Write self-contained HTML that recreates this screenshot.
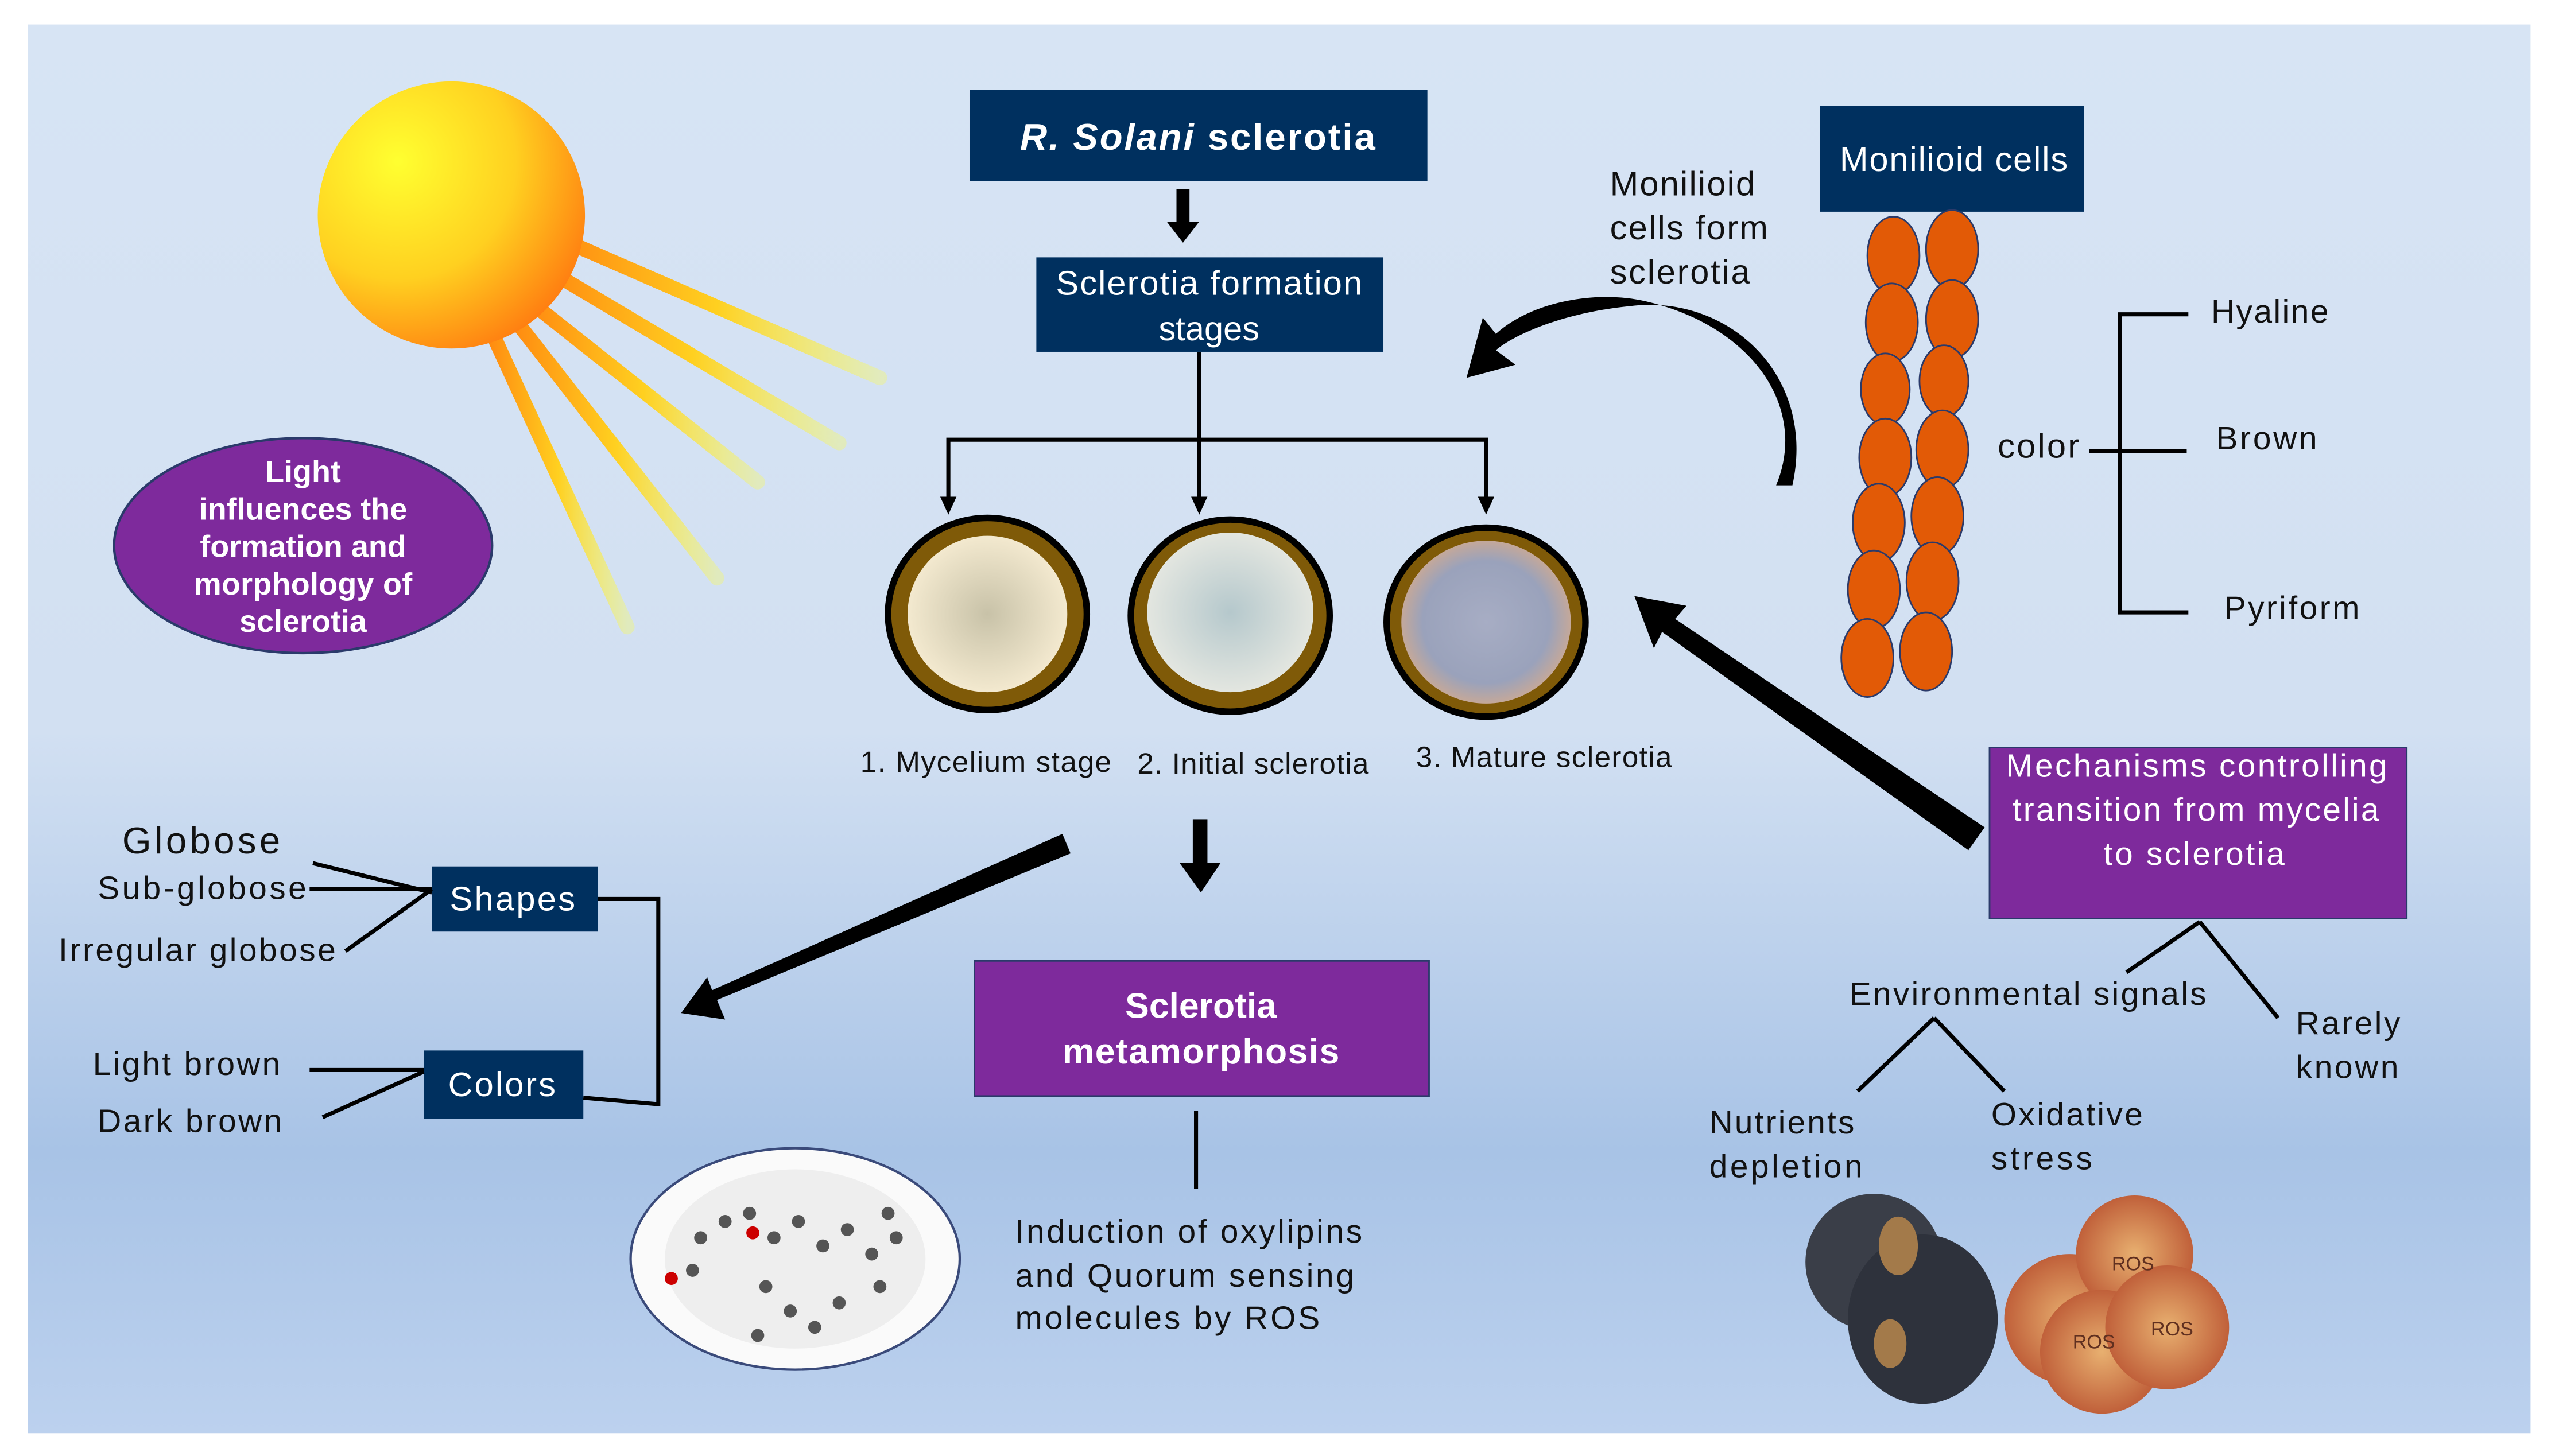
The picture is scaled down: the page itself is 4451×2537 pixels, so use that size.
<!DOCTYPE html>
<html><head><meta charset="utf-8">
<style>
html,body{margin:0;padding:0;background:#fff;}
svg{display:block;}
text{font-family:"Liberation Sans",Arial,sans-serif;}
</style></head>
<body>
<svg width="4451" height="2537" viewBox="0 0 1568 894" preserveAspectRatio="none" xmlns="http://www.w3.org/2000/svg">
<defs>
<linearGradient id="bg" x1="0" y1="0" x2="0" y2="1">
<stop offset="0" stop-color="#d7e4f4"/>
<stop offset="0.5" stop-color="#d2e0f2"/>
<stop offset="0.8" stop-color="#a8c3e6"/>
<stop offset="1" stop-color="#bcd1ee"/>
</linearGradient>
<radialGradient id="sun" cx="0.3" cy="0.3" r="0.8">
<stop offset="0" stop-color="#ffff30"/>
<stop offset="0.55" stop-color="#ffd020"/>
<stop offset="1" stop-color="#ff7a10"/>
</radialGradient>
<linearGradient id="ray" x1="0" y1="0" x2="1" y2="0">
<stop offset="0" stop-color="#ff8a10"/>
<stop offset="0.5" stop-color="#ffd020"/>
<stop offset="1" stop-color="#ffff40" stop-opacity="0.3"/>
</linearGradient>
<radialGradient id="p1"><stop offset="0" stop-color="#c8c2a8"/><stop offset="1" stop-color="#f3e9cf"/></radialGradient>
<radialGradient id="p2"><stop offset="0" stop-color="#b5c8cc"/><stop offset="1" stop-color="#e3e6e0"/></radialGradient>
<radialGradient id="p3"><stop offset="0" stop-color="#a7adc4"/><stop offset="0.75" stop-color="#9aa2bb"/><stop offset="1" stop-color="#c4a89a"/></radialGradient>
<radialGradient id="ros"><stop offset="0" stop-color="#e8b070"/><stop offset="1" stop-color="#c0603a"/></radialGradient>
</defs>
<rect x="0" y="0" width="1568" height="894" fill="#fff"/>
<rect x="17" y="15" width="1536" height="865" fill="url(#bg)"/>

<g stroke-linecap="round">
<line x1="340" y1="145" x2="540" y2="232" stroke="url(#ray)" stroke-width="9"/>
<line x1="335" y1="165" x2="515" y2="272" stroke="url(#ray)" stroke-width="9"/>
<line x1="325" y1="185" x2="465" y2="296" stroke="url(#ray)" stroke-width="9"/>
<line x1="315" y1="195" x2="440" y2="355" stroke="url(#ray)" stroke-width="9"/>
<line x1="300" y1="200" x2="385" y2="385" stroke="url(#ray)" stroke-width="9"/>
</g>
<ellipse cx="277" cy="132" rx="82" ry="82" fill="url(#sun)"/>

<ellipse cx="186" cy="335" rx="116" ry="66" fill="#7e2a9c" stroke="#2a3a6a" stroke-width="1.5"/>
<g fill="#fff" font-weight="bold" font-size="19" text-anchor="middle">
<text x="186" y="296">Light</text>
<text x="186" y="319">influences the</text>
<text x="186" y="342">formation and</text>
<text x="186" y="365" textLength="134">morphology of</text>
<text x="186" y="388">sclerotia</text>
</g>

<rect x="595" y="55" width="281" height="56" fill="#00305f"/>
<text x="626" y="92" fill="#fff" font-size="23" font-weight="bold" textLength="218"><tspan font-style="italic">R. Solani</tspan> sclerotia</text>
<rect x="722" y="116" width="8" height="22" fill="#000"/>
<polygon points="716,136 736,136 726,149" fill="#000"/>
<rect x="636" y="158" width="213" height="58" fill="#00305f"/>
<text x="648" y="181" fill="#fff" font-size="21" textLength="188">Sclerotia formation</text>
<text x="742" y="209" fill="#fff" font-size="21" text-anchor="middle">stages</text>

<g stroke="#000" stroke-width="2.5" fill="none">
<line x1="736" y1="216" x2="736" y2="308"/>
<polyline points="582,308 582,270 912,270 912,308"/>
</g>
<g fill="#000">
<polygon points="577,305 587,305 582,316"/>
<polygon points="731,305 741,305 736,316"/>
<polygon points="907,305 917,305 912,316"/>
</g>

<ellipse cx="606" cy="377" rx="63" ry="61" fill="#000"/>
<ellipse cx="606" cy="377" rx="59" ry="57" fill="#7f5a08"/>
<ellipse cx="606" cy="377" rx="49" ry="48" fill="url(#p1)"/>
<ellipse cx="755" cy="378" rx="63" ry="61" fill="#000"/>
<ellipse cx="755" cy="378" rx="59" ry="57" fill="#7f5a08"/>
<ellipse cx="755" cy="376" rx="51" ry="49" fill="url(#p2)"/>
<ellipse cx="912" cy="382" rx="63" ry="60" fill="#000"/>
<ellipse cx="912" cy="382" rx="59" ry="56" fill="#7f5a08"/>
<ellipse cx="912" cy="382" rx="52" ry="50" fill="url(#p3)"/>
<g font-size="18" fill="#111">
<text x="528" y="474" textLength="154">1. Mycelium  stage</text>
<text x="698" y="475" textLength="142">2. Initial sclerotia</text>
<text x="869" y="471" textLength="157">3. Mature sclerotia</text>
</g>

<rect x="1117" y="65" width="162" height="65" fill="#00305f"/>
<text x="1129" y="105" fill="#fff" font-size="21" textLength="140">Monilioid cells</text>
<g font-size="21" fill="#111">
<text x="988" y="120" textLength="89">Monilioid</text>
<text x="988" y="147" textLength="97">cells form</text>
<text x="988" y="174" textLength="86">sclerotia</text>
</g>
<path d="M1100,298 C1115,230 1060,180 1000,188 C960,192 930,205 918,215 L930,224 L900,232 L910,195 L918,205 C940,185 980,178 1010,185 C1075,200 1110,250 1090,298 Z" fill="#000"/>
<g fill="#e25a06" stroke="#2a3a6a" stroke-width="1">
<ellipse cx="1162" cy="157" rx="16" ry="24"/>
<ellipse cx="1198" cy="153" rx="16" ry="24"/>
<ellipse cx="1161" cy="198" rx="16" ry="24"/>
<ellipse cx="1198" cy="196" rx="16" ry="24"/>
<ellipse cx="1157" cy="239" rx="15" ry="22"/>
<ellipse cx="1193" cy="234" rx="15" ry="22"/>
<ellipse cx="1157" cy="281" rx="16" ry="24"/>
<ellipse cx="1192" cy="276" rx="16" ry="24"/>
<ellipse cx="1153" cy="321" rx="16" ry="24"/>
<ellipse cx="1189" cy="317" rx="16" ry="24"/>
<ellipse cx="1150" cy="362" rx="16" ry="24"/>
<ellipse cx="1186" cy="357" rx="16" ry="24"/>
<ellipse cx="1146" cy="404" rx="16" ry="24"/>
<ellipse cx="1182" cy="400" rx="16" ry="24"/>
</g>
<text x="1226" y="281" font-size="21" fill="#111" textLength="50">color</text>
<g stroke="#000" stroke-width="2.5" fill="none">
<polyline points="1343,193 1301,193 1301,376 1343,376"/>
<line x1="1282" y1="277" x2="1342" y2="277"/>
</g>
<g font-size="20" fill="#111">
<text x="1357" y="198" textLength="72">Hyaline</text>
<text x="1360" y="276" textLength="62">Brown</text>
<text x="1365" y="380" textLength="83">Pyriform</text>
</g>

<polygon points="1218,508 1208,522 1020,388 1015,398 1003,366 1035,372 1028,380" fill="#000"/>
<rect x="1221" y="459" width="256" height="105" fill="#7e2a9c" stroke="#2a3a6a" stroke-width="1"/>
<g fill="#fff" font-size="20">
<text x="1231" y="477" textLength="234">Mechanisms controlling</text>
<text x="1235" y="504" textLength="225">transition from mycelia</text>
<text x="1291" y="531" textLength="111">to sclerotia</text>
</g>
<g stroke="#000" stroke-width="2.5">
<line x1="1350" y1="566" x2="1305" y2="597"/>
<line x1="1350" y1="566" x2="1398" y2="625"/>
<line x1="1187" y1="625" x2="1140" y2="670"/>
<line x1="1187" y1="625" x2="1230" y2="670"/>
</g>
<g font-size="20" fill="#111">
<text x="1135" y="617" textLength="219">Environmental signals</text>
<text x="1409" y="635" textLength="64">Rarely</text>
<text x="1409" y="662" textLength="63">known</text>
<text x="1049" y="696" textLength="89">Nutrients</text>
<text x="1049" y="723" textLength="94">depletion</text>
<text x="1222" y="691" textLength="93">Oxidative</text>
<text x="1222" y="718" textLength="62">stress</text>
</g>
<ellipse cx="1150" cy="775" rx="42" ry="42" fill="#3a3e48"/>
<ellipse cx="1180" cy="810" rx="46" ry="52" fill="#2e323c"/>
<ellipse cx="1165" cy="765" rx="12" ry="18" fill="#a37a4a"/>
<ellipse cx="1160" cy="825" rx="10" ry="15" fill="#a37a4a"/>
<circle cx="1270" cy="810" r="40" fill="url(#ros)"/>
<circle cx="1310" cy="770" r="36" fill="url(#ros)"/>
<circle cx="1290" cy="830" r="38" fill="url(#ros)"/>
<circle cx="1330" cy="815" r="38" fill="url(#ros)"/>
<g font-size="12" fill="#603020" font-family="Liberation Serif">
<text x="1296" y="780">ROS</text>
<text x="1320" y="820">ROS</text>
<text x="1272" y="828">ROS</text>
</g>

<polygon points="652,512 657,524 440,614 445,626 418,622 434,600 437,608" fill="#000"/>
<rect x="732" y="503" width="9" height="30" fill="#000"/>
<polygon points="724,530 749,530 737,548" fill="#000"/>
<rect x="265" y="532" width="102" height="40" fill="#00305f"/>
<text x="276" y="559" fill="#fff" font-size="21" textLength="77">Shapes</text>
<rect x="260" y="645" width="98" height="42" fill="#00305f"/>
<text x="275" y="673" fill="#fff" font-size="21" textLength="66">Colors</text>
<g stroke="#000" stroke-width="2.5" fill="none">
<polyline points="367,552 404,552 404,678 358,674"/>
<line x1="192" y1="530" x2="265" y2="548"/>
<line x1="190" y1="546" x2="265" y2="546"/>
<line x1="212" y1="584" x2="265" y2="546"/>
<line x1="190" y1="657" x2="260" y2="657"/>
<line x1="198" y1="686" x2="260" y2="658"/>
</g>
<g font-size="20" fill="#111">
<text x="75" y="524" font-size="23" textLength="97">Globose</text>
<text x="60" y="552" textLength="128">Sub-globose</text>
<text x="36" y="590" textLength="170">Irregular globose</text>
<text x="57" y="660" textLength="115">Light brown</text>
<text x="60" y="695" textLength="113">Dark brown</text>
</g>

<rect x="598" y="590" width="279" height="83" fill="#7e2a9c" stroke="#2a3a6a" stroke-width="1"/>
<text x="737" y="625" fill="#fff" font-size="22" font-weight="bold" text-anchor="middle">Sclerotia</text>
<text x="737" y="653" fill="#fff" font-size="22" font-weight="bold" text-anchor="middle" textLength="170">metamorphosis</text>
<line x1="734" y1="682" x2="734" y2="730" stroke="#000" stroke-width="2.5"/>
<g font-size="20" fill="#111">
<text x="623" y="763" textLength="213">Induction of  oxylipins</text>
<text x="623" y="790" textLength="208">and Quorum sensing</text>
<text x="623" y="816" textLength="187">molecules by ROS</text>
</g>
<ellipse cx="488" cy="773" rx="101" ry="68" fill="#fafafa" stroke="#3a4a7a" stroke-width="1.5"/>
<ellipse cx="488" cy="773" rx="80" ry="55" fill="#eee"/>
<g fill="#555">
<circle cx="430" cy="760" r="4"/><circle cx="445" cy="750" r="4"/><circle cx="460" cy="745" r="4"/>
<circle cx="475" cy="760" r="4"/><circle cx="490" cy="750" r="4"/><circle cx="505" cy="765" r="4"/>
<circle cx="520" cy="755" r="4"/><circle cx="535" cy="770" r="4"/><circle cx="550" cy="760" r="4"/>
<circle cx="470" cy="790" r="4"/><circle cx="485" cy="805" r="4"/><circle cx="500" cy="815" r="4"/>
<circle cx="515" cy="800" r="4"/><circle cx="540" cy="790" r="4"/><circle cx="425" cy="780" r="4"/>
<circle cx="465" cy="820" r="4"/><circle cx="545" cy="745" r="4"/>
</g>
<circle cx="462" cy="757" r="4" fill="#c00"/><circle cx="412" cy="785" r="4" fill="#c00"/>
</svg>
</body></html>
